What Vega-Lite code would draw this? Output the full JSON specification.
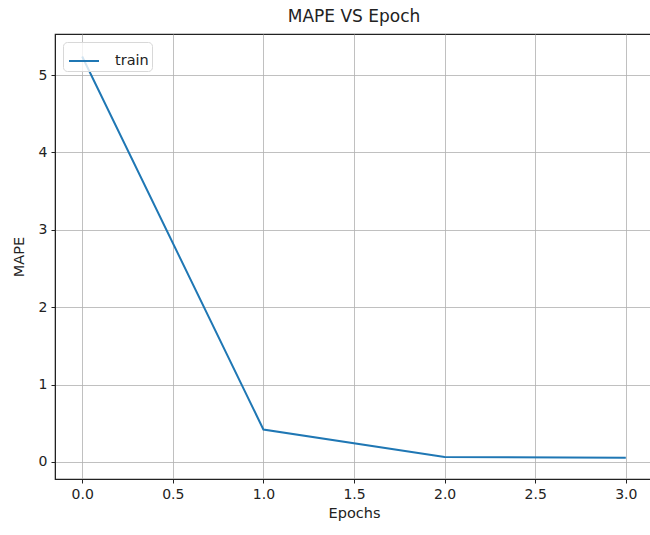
{
  "$schema": "https://vega.github.io/schema/vega-lite/v6.json",
  "autosize": "none",
  "padding": {"left": 55, "top": 34, "right": 0, "bottom": 56},
  "width": 598,
  "height": 445,
  "background": "white",
  "title": {"text": "MAPE VS Epoch", "font": "DejaVu Sans", "fontSize": 17, "fontWeight": "normal", "color": "#222", "offset": 8, "anchor": "middle"},
  "config": {
    "view": {"stroke": "#222", "strokeWidth": 1.2},
    "axis": {
      "labelFont": "DejaVu Sans", "labelFontSize": 14, "labelColor": "#222",
      "titleFont": "DejaVu Sans", "titleFontSize": 14.5, "titleFontWeight": "normal", "titleColor": "#222",
      "gridColor": "#b0b0b0", "gridWidth": 1, "gridOpacity": 0.8,
      "domainColor": "#222", "tickColor": "#222", "tickSize": 4, "labelPadding": 4
    }
  },
  "data": {"values": [
    {"epoch": 0, "mape": 5.24, "series": "train"},
    {"epoch": 1, "mape": 0.42, "series": "train"},
    {"epoch": 2, "mape": 0.065, "series": "train"},
    {"epoch": 3, "mape": 0.055, "series": "train"}
  ]},
  "mark": {"type": "line", "strokeWidth": 2},
  "encoding": {
    "x": {"field": "epoch", "type": "quantitative", "title": "Epochs",
      "scale": {"domain": [-0.15, 3.15], "nice": false, "zero": false},
      "axis": {"values": [0, 0.5, 1, 1.5, 2, 2.5, 3], "format": ".1f", "titlePadding": 5}},
    "y": {"field": "mape", "type": "quantitative", "title": "MAPE",
      "scale": {"domain": [-0.22, 5.53], "nice": false, "zero": false},
      "axis": {"values": [0, 1, 2, 3, 4, 5], "titlePadding": 12}},
    "color": {"field": "series", "type": "nominal",
      "scale": {"range": ["#1f77b4"]},
      "legend": {"title": null, "orient": "top-left", "offset": 8, "symbolType": "stroke", "symbolSize": 900, "symbolStrokeWidth": 2, "symbolOffset": 2, "labelOffset": 15,
        "labelFont": "DejaVu Sans", "labelFontSize": 14.5, "labelColor": "#222",
        "fillColor": "rgba(255,255,255,0.8)", "strokeColor": "#d8d8d8", "cornerRadius": 4, "padding": 3}}
  }
}
